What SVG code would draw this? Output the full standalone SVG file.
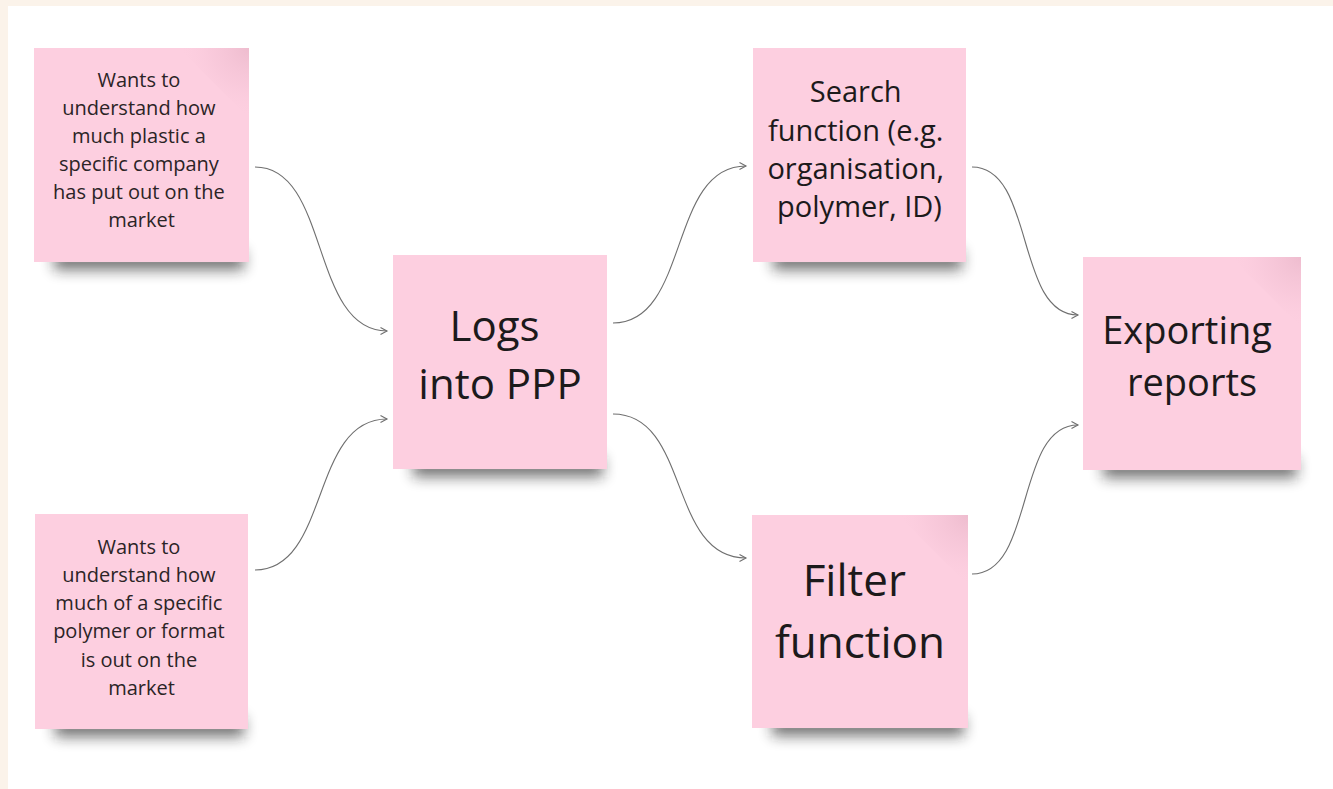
<svg xmlns="http://www.w3.org/2000/svg" width="1333" height="789" viewBox="0 0 1333 789">
  <defs>
    <style>
      .note { fill: #fdcfe0; }
      .curl { fill: url(#curl); }
      .shadow { fill: #1e1e1e; opacity: 0.6; filter: url(#blur); }
      .sm { font-family: "Open Sans", "Liberation Sans", sans-serif; font-size: 20px; fill: #2b2426; text-anchor: middle; }
      .lg { font-family: "Open Sans", "Liberation Sans", sans-serif; fill: #1c1a1b; text-anchor: middle; }
      .link { fill: none; stroke: #6f6f6f; stroke-width: 1.1; marker-end: url(#arrow); }
    </style>
    <filter id="blur" x="-20%" y="-150%" width="140%" height="400%">
      <feGaussianBlur stdDeviation="7"/>
    </filter>
    <radialGradient id="curl" cx="1" cy="0" r="1">
      <stop offset="0" stop-color="#e4b0c3" stop-opacity="0.6"/>
      <stop offset="0.55" stop-color="#efbdd0" stop-opacity="0.3"/>
      <stop offset="1" stop-color="#fdcfe0" stop-opacity="0"/>
    </radialGradient>
    <marker id="arrow" markerWidth="10" markerHeight="10" refX="7" refY="4" orient="auto" markerUnits="userSpaceOnUse">
      <path d="M0.5,0.5 L7,4 L0.5,7.5" fill="none" stroke="#6f6f6f" stroke-width="1.1"/>
    </marker>
  </defs>

  <!-- canvas -->
  <rect x="0" y="0" width="1333" height="789" fill="#ffffff"/>
  <rect x="0" y="0" width="1333" height="6" fill="#fbf3ea"/>
  <rect x="0" y="0" width="8" height="789" fill="#fbf3ea"/>

  <!-- connectors -->
  <g id="connectors">
    <path class="link" d="M255,167 C330,167 310,331 387,331"/>
    <path class="link" d="M255,570 C330,570 310,419 387,419"/>
    <path class="link" d="M613,323 C690,323 668,166 746,166"/>
    <path class="link" d="M613,414 C690,414 668,558 746,558"/>
    <path class="link" d="M972,167 C1035,167 1015,315 1078,315"/>
    <path class="link" d="M972,574 C1035,574 1015,425 1078,425"/>
  </g>

  <!-- user goal: company -->
  <g id="goal-company">
    <rect class="shadow" x="54" y="250" width="190" height="20"/>
    <rect class="note" x="34" y="48" width="215" height="214"/>
    <path class="curl" d="M179,48 L249,48 L249,118 Z"/>
    <text class="sm">
      <tspan x="141.5" y="87">Wants to</tspan>
      <tspan x="141.5" y="115">understand how</tspan>
      <tspan x="141.5" y="143">much plastic a</tspan>
      <tspan x="141.5" y="171">specific company</tspan>
      <tspan x="141.5" y="199">has put out on the</tspan>
      <tspan x="141.5" y="227">market</tspan>
    </text>
  </g>

  <!-- user goal: polymer -->
  <g id="goal-polymer">
    <rect class="shadow" x="55" y="717" width="189" height="20"/>
    <rect class="note" x="35" y="514" width="213" height="215"/>
    <text class="sm">
      <tspan x="141.5" y="554">Wants to</tspan>
      <tspan x="141.5" y="582">understand how</tspan>
      <tspan x="141.5" y="610">much of a specific</tspan>
      <tspan x="141.5" y="638">polymer or format</tspan>
      <tspan x="141.5" y="667">is out on the</tspan>
      <tspan x="141.5" y="695">market</tspan>
    </text>
  </g>

  <!-- login -->
  <g id="login">
    <rect class="shadow" x="413" y="457" width="190" height="20"/>
    <rect class="note" x="393" y="255" width="214" height="214"/>
    <text class="lg" font-size="42">
      <tspan x="500" y="341">Logs</tspan>
      <tspan x="500" y="399">into PPP</tspan>
    </text>
  </g>

  <!-- search -->
  <g id="search">
    <rect class="shadow" x="773" y="250" width="189" height="20"/>
    <rect class="note" x="753" y="48" width="213" height="214"/>
    <text class="lg" font-size="29">
      <tspan x="859.5" y="102">Search</tspan>
      <tspan x="859.5" y="141">function (e.g.</tspan>
      <tspan x="859.5" y="179">organisation,</tspan>
      <tspan x="859.5" y="217">polymer, ID)</tspan>
    </text>
  </g>

  <!-- filter -->
  <g id="filter">
    <rect class="shadow" x="772" y="716" width="192" height="20"/>
    <rect class="note" x="752" y="515" width="216" height="213"/>
    <path class="curl" d="M898,515 L968,515 L968,585 Z"/>
    <text class="lg" font-size="44">
      <tspan x="860" y="596">Filter</tspan>
      <tspan x="860" y="658">function</tspan>
    </text>
  </g>

  <!-- export -->
  <g id="export">
    <rect class="shadow" x="1103" y="458" width="194" height="20"/>
    <rect class="note" x="1083" y="257" width="218" height="213"/>
    <path class="curl" d="M1231,257 L1301,257 L1301,327 Z"/>
    <text class="lg" font-size="38">
      <tspan x="1192" y="344">Exporting</tspan>
      <tspan x="1192" y="396">reports</tspan>
    </text>
  </g>
</svg>
